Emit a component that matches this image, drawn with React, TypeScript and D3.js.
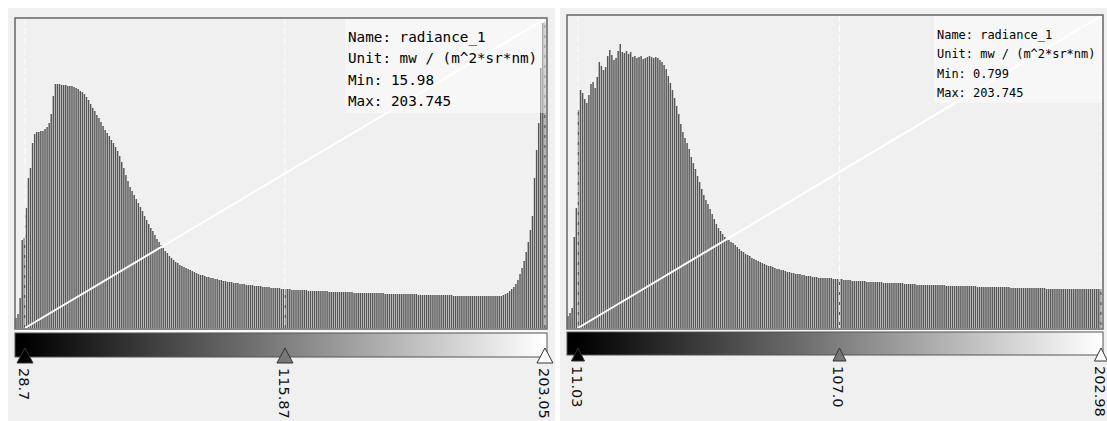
import React from "react";
import * as d3 from "d3";

// ---------- data ----------
const leftCounts = [
  10, 14, 30, 88, 90, 120, 150, 160, 185, 194,
  196, 196, 197, 197, 199, 201, 205, 214, 232, 244,
  244, 244, 243, 243, 243, 242, 242, 242, 241, 240,
  239, 237, 236, 234, 231, 228, 224, 220, 217, 213,
  210, 206, 202, 198, 195, 192, 188, 185, 181, 177,
  172, 166, 160, 153, 147, 141, 137, 133, 129, 125,
  121, 117, 112, 108, 104, 100, 97, 93, 89, 86,
  83, 80, 77, 75, 72, 70, 68, 66, 65, 63,
  62, 61, 60, 59, 58, 57, 56, 55, 54, 53,
  53, 52, 51, 51, 50, 50, 49, 49, 48, 48,
  47, 47, 46, 46, 46, 45, 45, 45, 44, 44,
  44, 43, 43, 43, 43, 42, 42, 42, 42, 41,
  41, 41, 41, 40, 40, 40, 40, 40, 39, 39,
  39, 39, 39, 38, 38, 38, 38, 38, 38, 38,
  38, 37, 37, 37, 37, 37, 37, 37, 37, 37,
  37, 36, 36, 36, 36, 36, 36, 36, 36, 36,
  36, 36, 36, 35, 35, 35, 35, 35, 35, 35,
  35, 35, 35, 35, 35, 35, 35, 35, 34, 34,
  34, 34, 34, 34, 34, 34, 34, 34, 34, 34,
  34, 34, 34, 34, 33, 33, 33, 33, 33, 33,
  33, 33, 33, 33, 33, 33, 33, 33, 33, 33,
  33, 32, 32, 32, 32, 32, 32, 32, 32, 32,
  32, 32, 32, 32, 32, 32, 32, 32, 32, 32,
  32, 32, 32, 32, 32, 33, 34, 35, 37, 39,
  41, 44, 48, 54, 60, 67, 76, 86, 98, 112,
  150, 178, 205, 260, 305, 306,
];

const rightCounts = [
  12, 15, 20, 91, 120, 218, 238, 235, 229, 225,
  233, 244, 246, 240, 251, 266, 262, 258, 261, 272,
  278, 273, 268, 270, 277, 284, 276, 275, 277, 274,
  276, 271, 272, 270, 271, 272, 269, 270, 271, 272,
  271, 270, 271, 270, 268, 266, 263, 259, 252, 245,
  238, 230, 222, 214, 204, 196, 190, 185, 179, 171,
  165, 159, 152, 146, 139, 133, 128, 124, 119, 114,
  109, 104, 100, 97, 94, 91, 90, 88, 86, 85,
  83, 81, 79, 77, 76, 74, 73, 72, 70, 69,
  68, 67, 66, 65, 64, 63, 62, 62, 61, 60,
  59, 59, 58, 58, 57, 56, 56, 55, 55, 54,
  54, 54, 53, 53, 52, 52, 52, 51, 51, 51,
  50, 50, 50, 50, 50, 50, 50, 49, 49, 49,
  49, 49, 48, 48, 48, 48, 47, 47, 47, 47,
  47, 47, 47, 46, 46, 46, 46, 46, 46, 46,
  46, 45, 45, 45, 45, 45, 45, 45, 45, 45,
  45, 44, 44, 44, 44, 44, 44, 43, 43, 43,
  43, 43, 43, 43, 43, 43, 43, 43, 43, 43,
  43, 42, 42, 42, 42, 42, 42, 42, 42, 42,
  42, 42, 42, 42, 42, 42, 41, 41, 41, 41,
  41, 41, 41, 41, 41, 41, 41, 41, 41, 41,
  41, 41, 40, 40, 40, 40, 40, 40, 40, 40,
  40, 40, 40, 40, 40, 40, 40, 40, 40, 39,
  39, 39, 39, 39, 39, 39, 39, 39, 39, 39,
  39, 39, 39, 39, 39, 39, 39, 39, 39, 39,
  39, 39, 39, 39, 39, 39,
];

const leftRange = [25.35, 203.4];
const rightRange = [7.0, 203.35];
const leftStops = [28.7, 115.87, 203.05];
const rightStops = [11.03, 107.0, 202.98];
const leftStopLabels = ["28.7", "115.87", "203.05"];
const rightStopLabels = ["11.03", "107.0", "202.98"];
const leftInfo = ["Name: radiance_1", "Unit: mw / (m^2*sr*nm)", "Min: 15.98", "Max: 203.745"];
const rightInfo = ["Name: radiance_1", "Unit: mw / (m^2*sr*nm)", "Min: 0.799", "Max: 203.745"];
const leftYMax = 310;
const rightYMax = 313;

// ---------- layout ----------
type Layout = {
  id: string;
  bg: [number, number, number, number];
  fx0: number; fx1: number; fy0: number; fy1: number;
  cb0: number; cb1: number;
  triH: number; triW: number;
  tx: number; ty: number; tdy: number; tsize: number; tpitch: number;
  boxX: number; boxH: number;
};

const leftLayout: Layout = {
  id: "L", bg: [8, 8, 547, 413],
  fx0: 15, fx1: 547, fy0: 18, fy1: 329,
  cb0: 333, cb1: 357, triH: 15, triW: 16,
  tx: 348, ty: 41.5, tdy: 21.5, tsize: 14, tpitch: 8.6,
  boxX: 345, boxH: 94,
};
const rightLayout: Layout = {
  id: "R", bg: [560, 8, 547, 413],
  fx0: 567, fx1: 1103, fy0: 15, fy1: 329,
  cb0: 332, cb1: 355, triH: 13, triW: 13,
  tx: 937, ty: 39, tdy: 19.3, tsize: 12, tpitch: 7.2,
  boxX: 934, boxH: 87,
};

function Panel({ L, counts, range, stops, labels, info, yMax }: {
  L: Layout; counts: number[]; range: number[]; stops: number[]; labels: string[]; info: string[]; yMax: number;
}) {
  const x = d3.scaleLinear().domain(range).range([L.fx0, L.fx1 - 1]);
  const y = d3.scaleLinear().domain([0, yMax]).range([L.fy1 - 1, L.fy0]);
  const bw = (range[1] - range[0]) / counts.length;
  const pitch = x(range[0] + bw) - x(range[0]);
  const base = y(0);
  const mx = stops.map((s) => x(s));
  const triFill = ["#000", "#777", "#fff"];
  return (
    <g>
      <rect x={L.bg[0]} y={L.bg[1]} width={L.bg[2]} height={L.bg[3]} fill="#f0f0f0" />
      {counts.map((c, i) => {
        const x0 = x(range[0] + i * bw);
        return (
          <rect key={i} x={x0 + pitch * 0.12} y={y(c)} width={pitch * 0.7} height={base - y(c)} fill="#555" />
        );
      })}
      {mx.map((m, i) => (
        <line key={"d" + i} x1={m} x2={m} y1={L.fy0} y2={L.fy1} stroke="#fff" strokeOpacity={0.85} strokeDasharray="7,3" strokeWidth={1} />
      ))}
      <line x1={mx[0]} y1={L.fy1 - 1} x2={mx[2]} y2={L.fy0 + 1} stroke="#fff" strokeWidth={2} />
      <rect x={L.boxX} y={L.fy0 + 1} width={L.fx1 - L.boxX - 1} height={L.boxH} fill="#fff" fillOpacity={0.45} />
      {info.map((t, i) => (
        <text key={"t" + i} x={L.tx} y={L.ty + i * L.tdy} fontFamily="'DejaVu Sans Mono', monospace" fontSize={L.tsize}
          fill="#000" textLength={t.length * L.tpitch} lengthAdjust="spacingAndGlyphs" style={{ whiteSpace: "pre" }}>{t}</text>
      ))}
      <rect x={L.fx0} y={L.fy0} width={L.fx1 - L.fx0} height={L.fy1 - L.fy0} fill="none" stroke="#666" strokeWidth={1.5} />
      <line x1={L.fx0} x2={L.fx1} y1={L.fy1 + 2} y2={L.fy1 + 2} stroke="#fff" strokeWidth={1} />
      <defs>
        <linearGradient id={"g" + L.id} gradientUnits="userSpaceOnUse" x1={mx[0]} x2={mx[2]} y1={0} y2={0}>
          <stop offset="0" stopColor="#000" />
          <stop offset="1" stopColor="#fff" />
        </linearGradient>
      </defs>
      <rect x={L.fx0} y={L.cb0} width={L.fx1 - L.fx0} height={L.cb1 - L.cb0} fill={`url(#g${L.id})`} stroke="#555" strokeWidth={1} />
      {mx.map((m, i) => (
        <path key={"tr" + i} d={`M${m},${L.cb1 - L.triH + 6} L${m + L.triW / 2},${L.cb1 + 6} L${m - L.triW / 2},${L.cb1 + 6} Z`}
          fill={triFill[i]} stroke="#333" strokeWidth={1} />
      ))}
      {labels.map((t, i) => (
        <text key={"l" + i} transform={`translate(${mx[i] - 6},${L.cb1 + 11}) rotate(90)`} fontFamily="'DejaVu Sans', sans-serif"
          fontSize={14.5} fill="#111">{t}</text>
      ))}
    </g>
  );
}

export default function App() {
  return (
    <svg width={1107} height={421} style={{ position: "absolute", left: 0, top: 0, display: "block", background: "#fff" }}>
      <Panel L={leftLayout} counts={leftCounts} range={leftRange} stops={leftStops} labels={leftStopLabels} info={leftInfo} yMax={leftYMax} />
      <Panel L={rightLayout} counts={rightCounts} range={rightRange} stops={rightStops} labels={rightStopLabels} info={rightInfo} yMax={rightYMax} />
    </svg>
  );
}
